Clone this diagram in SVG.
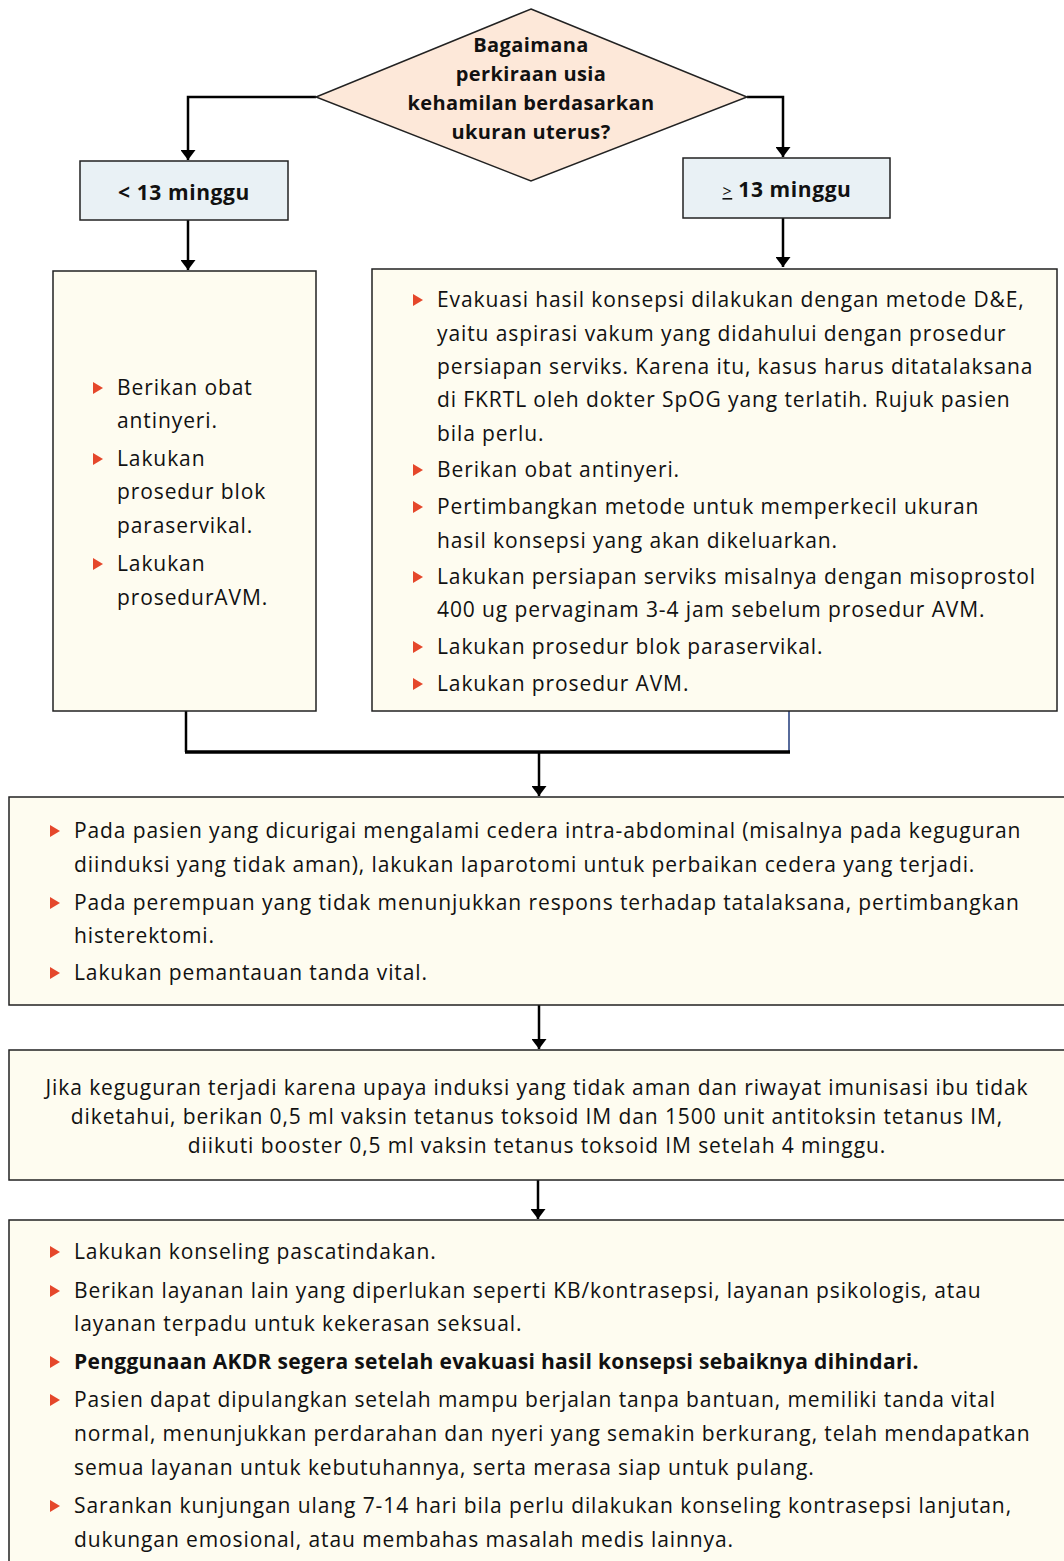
<svg xmlns="http://www.w3.org/2000/svg" xmlns:xlink="http://www.w3.org/1999/xlink" width="1064" height="1561" viewBox="0 0 1064 1561">
  <defs>
    <style>
      .txt { font-family: "Open Sans", "Noto Sans", "Liberation Sans", sans-serif; font-size: 21px; letter-spacing: 0.9px; fill: #111; }
      .bold { font-weight: bold; letter-spacing: 0.3px; }
      .head { font-size: 20px; letter-spacing: 0.4px; }
      .tag { font-size: 21px; letter-spacing: 0.6px; }
      .mid { text-anchor: middle; }
      .box { fill: #fefcf0; stroke: #222; stroke-width: 1.5; }
      .lbl { fill: #e9f1f5; stroke: #222; stroke-width: 1.5; }
      .dia { fill: #fde8d9; stroke: #222; stroke-width: 1.5; }
      .con { fill: none; stroke: #000; stroke-width: 2.5; }
    </style>
    <marker id="ah" viewBox="0 0 10 15" refX="10" refY="7.5" markerWidth="10" markerHeight="15" markerUnits="userSpaceOnUse" orient="auto">
      <path d="M0,0 L10,7.5 L0,15 Z" fill="#000"/>
    </marker>
    <path id="b" d="M0,-6 L10,0 L0,6 Z" fill="#e5472b"/>
  </defs>

  <!-- connectors -->
  <g id="connectors">
    <path class="con" d="M316,97 H188 V160" marker-end="url(#ah)"/>
    <path class="con" d="M747,97 H783 V157" marker-end="url(#ah)"/>
    <path class="con" d="M188,220 V270" marker-end="url(#ah)"/>
    <path class="con" d="M783,218 V267" marker-end="url(#ah)"/>
    <path fill="none" stroke="#000" stroke-width="2.5" d="M186,711 V752"/>
    <path fill="none" stroke="#1f3a7a" stroke-width="1.5" d="M789,711 V752"/>
    <path fill="none" stroke="#000" stroke-width="3.5" d="M185,752 H790"/>
    <path class="con" d="M539,752 V796" marker-end="url(#ah)"/>
    <path class="con" d="M539,1005 V1049" marker-end="url(#ah)"/>
    <path class="con" d="M538,1180 V1219" marker-end="url(#ah)"/>
  </g>

  <!-- decision -->
  <g id="q-usia">
    <polygon class="dia" points="531,9 747,97 531,181 316,97"/>
    <text class="txt bold head mid" x="531" y="52">Bagaimana</text>
    <text class="txt bold head mid" x="531" y="81">perkiraan usia</text>
    <text class="txt bold head mid" x="531" y="110">kehamilan berdasarkan</text>
    <text class="txt bold head mid" x="531" y="139">ukuran uterus?</text>
  </g>

  <g id="lt13">
    <rect class="lbl" x="80" y="161" width="208" height="59"/>
    <text class="txt bold tag mid" x="184" y="200">&lt; 13 minggu</text>
  </g>

  <g id="ge13">
    <rect class="lbl" x="683" y="158" width="207" height="60"/>
    <text class="txt tag mid" x="787" y="197"><tspan font-size="16" font-weight="normal" text-decoration="underline">&gt;</tspan> <tspan font-weight="bold">13 minggu</tspan></text>
  </g>

  <g id="tindakan-kecil">
    <rect class="box" x="53" y="271" width="263" height="440"/>
    <use xlink:href="#b" x="93" y="388"/>
    <text class="txt" x="117" y="395">Berikan obat</text>
    <text class="txt" x="117" y="428">antinyeri.</text>
    <use xlink:href="#b" x="93" y="459"/>
    <text class="txt" x="117" y="466">Lakukan</text>
    <text class="txt" x="117" y="499">prosedur blok</text>
    <text class="txt" x="117" y="533">paraservikal.</text>
    <use xlink:href="#b" x="93" y="564"/>
    <text class="txt" x="117" y="571">Lakukan</text>
    <text class="txt" x="117" y="605">prosedurAVM.</text>
  </g>

  <g id="tindakan-besar">
    <rect class="box" x="372" y="269" width="685" height="442"/>
    <use xlink:href="#b" x="413" y="300"/>
    <text class="txt" x="437" y="307">Evakuasi hasil konsepsi dilakukan dengan metode D&amp;E,</text>
    <text class="txt" x="437" y="341">yaitu aspirasi vakum yang didahului dengan prosedur</text>
    <text class="txt" x="437" y="374">persiapan serviks. Karena itu, kasus harus ditatalaksana</text>
    <text class="txt" x="437" y="407">di FKRTL oleh dokter SpOG yang terlatih. Rujuk pasien</text>
    <text class="txt" x="437" y="441">bila perlu.</text>
    <use xlink:href="#b" x="413" y="470"/>
    <text class="txt" x="437" y="477">Berikan obat antinyeri.</text>
    <use xlink:href="#b" x="413" y="507"/>
    <text class="txt" x="437" y="514">Pertimbangkan metode untuk memperkecil ukuran</text>
    <text class="txt" x="437" y="548">hasil konsepsi yang akan dikeluarkan.</text>
    <use xlink:href="#b" x="413" y="577"/>
    <text class="txt" x="437" y="584">Lakukan persiapan serviks misalnya dengan misoprostol</text>
    <text class="txt" x="437" y="617">400 ug pervaginam 3-4 jam sebelum prosedur AVM.</text>
    <use xlink:href="#b" x="413" y="647"/>
    <text class="txt" x="437" y="654">Lakukan prosedur blok paraservikal.</text>
    <use xlink:href="#b" x="413" y="684"/>
    <text class="txt" x="437" y="691">Lakukan prosedur AVM.</text>
  </g>

  <g id="komplikasi">
    <rect class="box" x="9" y="797" width="1062" height="208"/>
    <use xlink:href="#b" x="50" y="831"/>
    <text class="txt" x="74" y="838">Pada pasien yang dicurigai mengalami cedera intra-abdominal (misalnya pada keguguran</text>
    <text class="txt" x="74" y="872">diinduksi yang tidak aman), lakukan laparotomi untuk perbaikan cedera yang terjadi.</text>
    <use xlink:href="#b" x="50" y="903"/>
    <text class="txt" x="74" y="910">Pada perempuan yang tidak menunjukkan respons terhadap tatalaksana, pertimbangkan</text>
    <text class="txt" x="74" y="943">histerektomi.</text>
    <use xlink:href="#b" x="50" y="973"/>
    <text class="txt" x="74" y="980">Lakukan pemantauan tanda vital.</text>
  </g>

  <g id="tetanus">
    <rect class="box" x="9" y="1050" width="1062" height="130"/>
    <text class="txt mid" x="537" y="1095">Jika keguguran terjadi karena upaya induksi yang tidak aman dan riwayat imunisasi ibu tidak</text>
    <text class="txt mid" x="537" y="1124">diketahui, berikan 0,5 ml vaksin tetanus toksoid IM dan 1500 unit antitoksin tetanus IM,</text>
    <text class="txt mid" x="537" y="1153">diikuti booster 0,5 ml vaksin tetanus toksoid IM setelah 4 minggu.</text>
  </g>

  <g id="pascatindakan">
    <rect class="box" x="9" y="1220" width="1062" height="360"/>
    <use xlink:href="#b" x="50" y="1252"/>
    <text class="txt" x="74" y="1259">Lakukan konseling pascatindakan.</text>
    <use xlink:href="#b" x="50" y="1291"/>
    <text class="txt" x="74" y="1298">Berikan layanan lain yang diperlukan seperti KB/kontrasepsi, layanan psikologis, atau</text>
    <text class="txt" x="74" y="1331">layanan terpadu untuk kekerasan seksual.</text>
    <use xlink:href="#b" x="50" y="1362"/>
    <text class="txt bold" x="74" y="1369">Penggunaan AKDR segera setelah evakuasi hasil konsepsi sebaiknya dihindari.</text>
    <use xlink:href="#b" x="50" y="1400"/>
    <text class="txt" x="74" y="1407">Pasien dapat dipulangkan setelah mampu berjalan tanpa bantuan, memiliki tanda vital</text>
    <text class="txt" x="74" y="1441">normal, menunjukkan perdarahan dan nyeri yang semakin berkurang, telah mendapatkan</text>
    <text class="txt" x="74" y="1475">semua layanan untuk kebutuhannya, serta merasa siap untuk pulang.</text>
    <use xlink:href="#b" x="50" y="1506"/>
    <text class="txt" x="74" y="1513">Sarankan kunjungan ulang 7-14 hari bila perlu dilakukan konseling kontrasepsi lanjutan,</text>
    <text class="txt" x="74" y="1547">dukungan emosional, atau membahas masalah medis lainnya.</text>
  </g>
</svg>
